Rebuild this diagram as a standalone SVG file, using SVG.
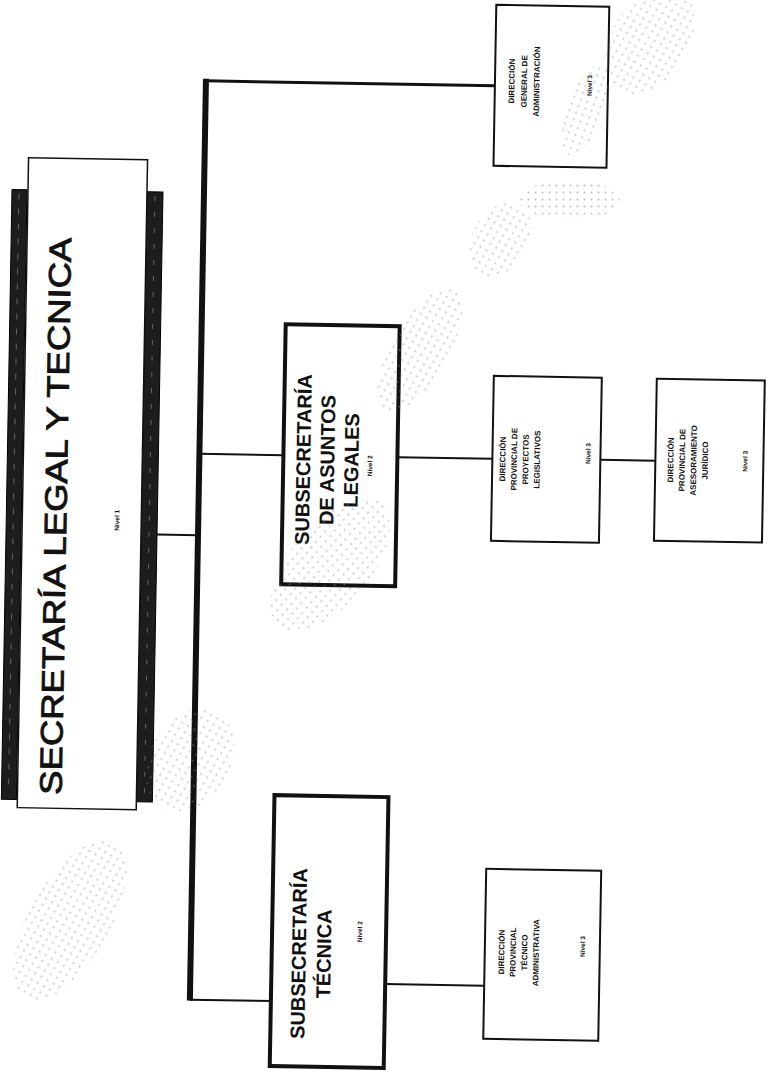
<svg xmlns="http://www.w3.org/2000/svg" width="771" height="1075" viewBox="0 0 771 1075">
<defs>
<style>
.t{font-family:"Liberation Sans",Arial,sans-serif;font-weight:bold;text-anchor:middle;fill:#111}
.title{font-size:31px;font-weight:normal;stroke:#111;stroke-width:0.9}
.sub{font-size:20px}
.dir{font-size:8px}
.niv{font-size:6.5px}
.box{fill:#fff;stroke:#111;stroke-width:2}
.sbox{fill:#fff;stroke:#111;stroke-width:4}
.ln{stroke:#111;stroke-width:2;fill:none}
.band{fill:#1d1d1d;stroke:#000;stroke-width:1}
</style>
<pattern id="dots" width="7" height="7" patternUnits="userSpaceOnUse"><circle cx="3.5" cy="3.5" r="1" fill="#8a8a8a"/></pattern>
</defs>
<rect width="771" height="1075" fill="#fff"/>
<g transform="rotate(1 385 537)">
<g id="connectors">
<line class="ln" x1="198" y1="84" x2="487" y2="84" style="stroke-width:3"/>
<line class="ln" x1="198" y1="82" x2="198" y2="1004" style="stroke-width:6"/>
<line class="ln" x1="157" y1="538.5" x2="198" y2="538.5"/>
<line class="ln" x1="198" y1="457" x2="282" y2="457"/>
<line class="ln" x1="396" y1="457" x2="491" y2="457"/>
<line class="ln" x1="599" y1="456" x2="654" y2="456"/>
<line class="ln" x1="198" y1="1003" x2="279" y2="1003"/>
<line class="ln" x1="393" y1="984" x2="492" y2="984"/>
</g>
<g id="secretaria">
<rect class="band" x="6" y="196" width="15" height="610"/>
<rect class="band" x="141" y="196" width="16" height="610"/>
<line x1="13" y1="200" x2="13" y2="800" stroke="#666" stroke-width="1" stroke-dasharray="6 9"/>
<line x1="149" y1="200" x2="149" y2="800" stroke="#666" stroke-width="1" stroke-dasharray="5 11"/>
<rect x="22" y="164" width="119" height="650" fill="#fff" stroke="#111" stroke-width="1.5"/>
<text class="t title" transform="translate(66 522) rotate(-90)" textLength="557" lengthAdjust="spacingAndGlyphs">SECRETARÍA LEGAL Y TECNICA</text>
<text class="t niv" transform="translate(119 525) rotate(-90)">Nivel 1</text>
</g>
<g id="dg-administracion">
<rect class="box" x="487" y="3" width="113" height="161"/>
<text class="t dir" transform="translate(506.5 79) rotate(-90)">DIRECCIÓN</text>
<text class="t dir" transform="translate(519 79) rotate(-90)">GENERAL DE</text>
<text class="t dir" transform="translate(531.5 79) rotate(-90)">ADMINISTRACIÓN</text>
<text class="t niv" transform="translate(584 82) rotate(-90)">Nivel 3</text>
</g>
<g id="sub-asuntos-legales">
<rect class="sbox" x="282" y="326" width="114" height="260"/>
<text class="t sub" transform="translate(309 461) rotate(-90)">SUBSECRETARÍA</text>
<text class="t sub" transform="translate(333 461) rotate(-90)">DE ASUNTOS</text>
<text class="t sub" transform="translate(357 461) rotate(-90)">LEGALES</text>
<text class="t niv" transform="translate(371 466) rotate(-90)">Nivel 2</text>
</g>
<g id="dp-proyectos-legislativos">
<rect class="box" x="491" y="374" width="108" height="165"/>
<text class="t dir" transform="translate(504 457) rotate(-90)">DIRECCIÓN</text>
<text class="t dir" transform="translate(515.5 457) rotate(-90)">PROVINCIAL DE</text>
<text class="t dir" transform="translate(527 457) rotate(-90)">PROYECTOS</text>
<text class="t dir" transform="translate(538.5 457) rotate(-90)">LEGISLATIVOS</text>
<text class="t niv" transform="translate(589 450) rotate(-90)">Nivel 3</text>
</g>
<g id="dp-asesoramiento-juridico">
<rect class="box" x="654" y="374" width="108" height="162"/>
<text class="t dir" transform="translate(672 455) rotate(-90)">DIRECCIÓN</text>
<text class="t dir" transform="translate(683.5 455) rotate(-90)">PROVINCIAL DE</text>
<text class="t dir" transform="translate(695 455) rotate(-90)">ASESORAMIENTO</text>
<text class="t dir" transform="translate(706.5 455) rotate(-90)">JURÍDICO</text>
<text class="t niv" transform="translate(746 455) rotate(-90)">Nivel 3</text>
</g>
<g id="sub-tecnica">
<rect class="sbox" x="279" y="797" width="114" height="271"/>
<text class="t sub" transform="translate(313 955) rotate(-90)">SUBSECRETARÍA</text>
<text class="t sub" transform="translate(338 955) rotate(-90)">TÉCNICA</text>
<text class="t niv" transform="translate(369 932) rotate(-90)">Nivel 2</text>
</g>
<g id="dp-tecnico-administrativa">
<rect class="box" x="492" y="867" width="115" height="170"/>
<text class="t dir" transform="translate(511.5 950) rotate(-90)">DIRECCIÓN</text>
<text class="t dir" transform="translate(523 950) rotate(-90)">PROVINCIAL</text>
<text class="t dir" transform="translate(534.5 950) rotate(-90)">TÉCNICO</text>
<text class="t dir" transform="translate(546 950) rotate(-90)">ADMINISTRATIVA</text>
<text class="t niv" transform="translate(592 943) rotate(-90)">Nivel 3</text>
</g>
</g>
<g id="halftone" fill="url(#dots)" opacity="0.55">
<ellipse cx="70" cy="920" rx="40" ry="90" transform="rotate(30 70 920)"/>
<ellipse cx="190" cy="760" rx="40" ry="55" transform="rotate(30 190 760)"/>
<ellipse cx="330" cy="565" rx="40" ry="80" transform="rotate(40 330 565)"/>
<ellipse cx="420" cy="350" rx="28" ry="70" transform="rotate(30 420 350)"/>
<ellipse cx="500" cy="240" rx="28" ry="40" transform="rotate(30 500 240)"/>
<ellipse cx="570" cy="200" rx="50" ry="20"/>
<ellipse cx="650" cy="40" rx="38" ry="60" transform="rotate(30 650 40)"/>
<ellipse cx="585" cy="110" rx="18" ry="48" transform="rotate(20 585 110)"/>
</g>
</svg>
